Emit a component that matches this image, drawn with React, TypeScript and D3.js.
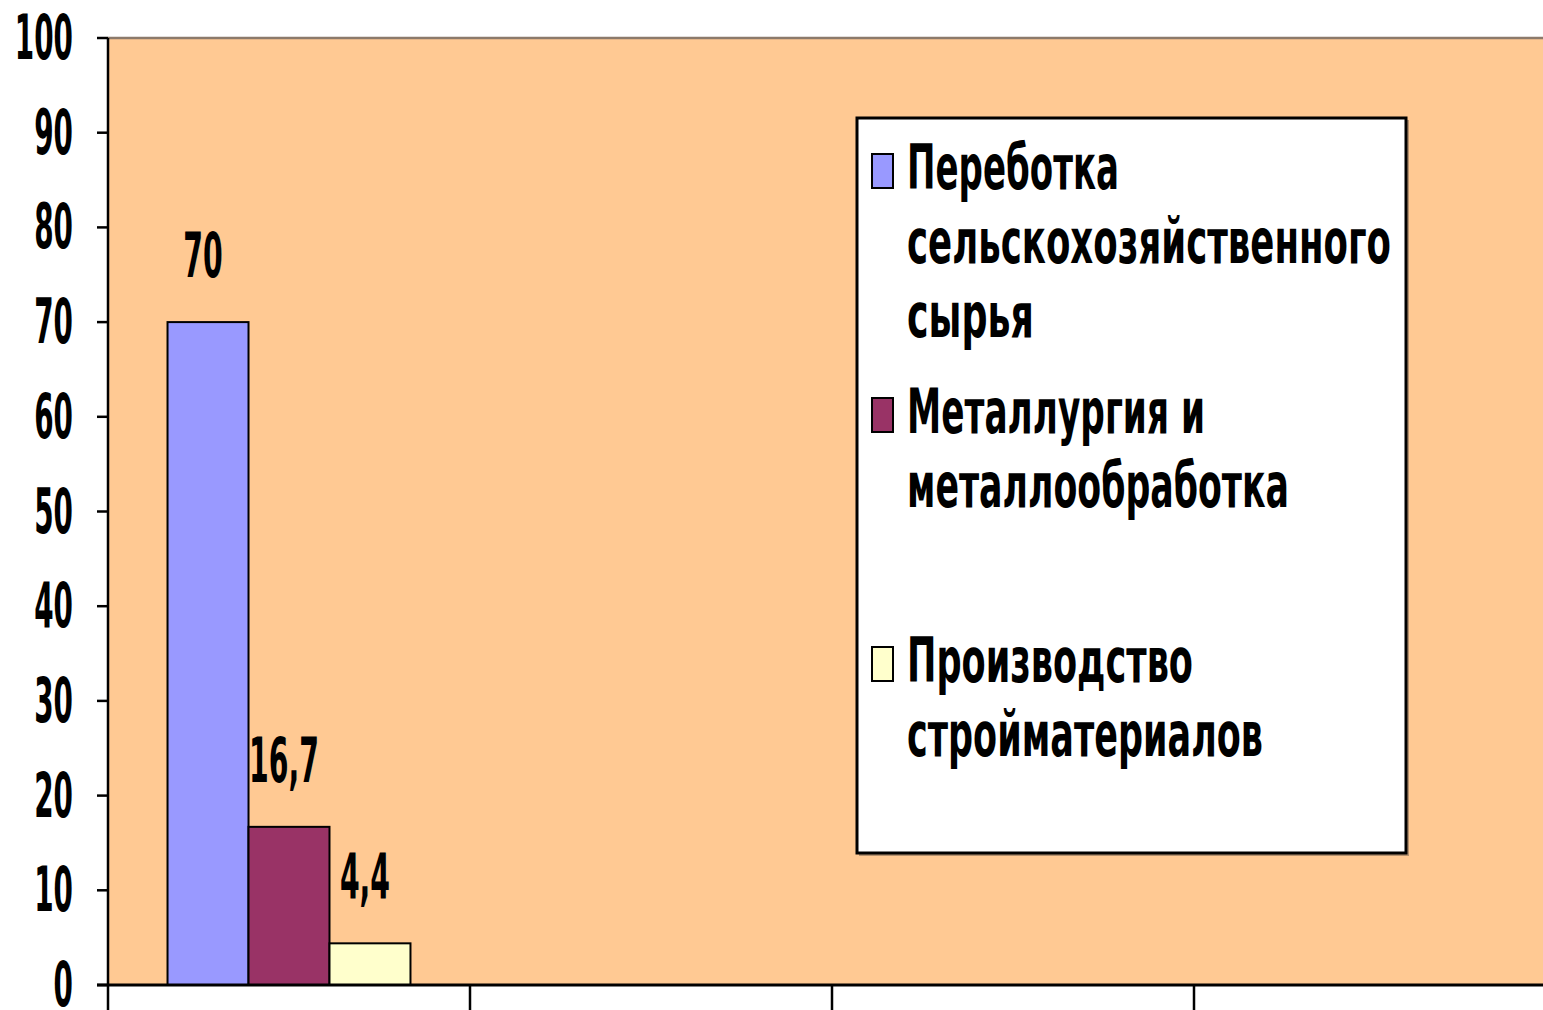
import React, { useEffect, useRef } from 'react';
import * as d3 from 'd3';

// categories along x (their labels are cut off below the picture)
const categories = ['1', '2', '3', '4'];
const seriesNames = [
  'Переботка сельскохозяйственного сырья',
  'Металлургия и металлообработка',
  'Производство стройматериалов',
];
const seriesColors = ['#9999FF', '#993366', '#FFFFCC'];
// values per series, one per category (only the first category has data)
const pererabotka = [70, null, null, null];
const metallurgy = [16.7, null, null, null];
const stroymat = [4.4, null, null, null];
const yTicks = [0, 10, 20, 30, 40, 50, 60, 70, 80, 90, 100];

// legend lines as drawn in the box
const legendLines = [
  ['Переботка', 'сельскохозяйственного', 'сырья'],
  ['Металлургия и', 'металлообработка'],
  ['Производство', 'стройматериалов'],
];
const legendWidths = [[212, 484, 127], [298, 382], [286, 356]];

const W = 1543;
const H = 1010;

export default function App() {
  const ref = useRef(null);

  useEffect(() => {
    document.body.style.margin = '0';
    const svg = d3.select(ref.current);
    svg.selectAll('*').remove();

    const m = { left: 108, top: 38, right: 1556, bottom: 985 };
    const font = '"DejaVu Sans", sans-serif';
    const values = [pererabotka, metallurgy, stroymat];

    const y = d3.scaleLinear().domain([0, 100]).range([m.bottom, m.top]);
    const x0 = d3.scaleBand().domain(categories).range([m.left, m.right]).padding(0);
    const x1 = d3.scaleBand().domain(seriesNames).range([0, x0.bandwidth()])
      .paddingInner(0).paddingOuter(0.735);

    // plot background
    svg.append('rect')
      .attr('x', m.left).attr('y', m.top)
      .attr('width', m.right - m.left).attr('height', m.bottom - m.top)
      .attr('fill', '#FFC993');
    svg.append('line')
      .attr('x1', m.left).attr('x2', m.right).attr('y1', m.top).attr('y2', m.top)
      .attr('stroke', '#8c7a6b').attr('stroke-width', 2.5);

    // bars
    values.forEach((vals, si) => {
      vals.forEach((v, ci) => {
        if (v == null) return;
        const bx = x0(categories[ci]) + x1(seriesNames[si]);
        svg.append('rect')
          .attr('x', bx).attr('y', y(v))
          .attr('width', x1.bandwidth()).attr('height', y(0) - y(v))
          .attr('fill', seriesColors[si])
          .attr('stroke', '#000').attr('stroke-width', 2);
        svg.append('text')
          .attr('transform', `translate(${bx + x1.bandwidth() / 2 - 5},${y(v) - 45}) scale(0.45,1)`)
          .attr('text-anchor', 'middle')
          .attr('font-family', font).attr('font-weight', 'bold').attr('font-size', 63)
          .text(String(v).replace('.', ','));
      });
    });

    // y axis
    svg.append('line')
      .attr('x1', m.left).attr('x2', m.left).attr('y1', m.top).attr('y2', H)
      .attr('stroke', '#000').attr('stroke-width', 2.5);
    yTicks.forEach((t) => {
      svg.append('line')
        .attr('x1', m.left - 11).attr('x2', m.left).attr('y1', y(t)).attr('y2', y(t))
        .attr('stroke', '#000').attr('stroke-width', 2.5);
      svg.append('text')
        .attr('transform', `translate(73,${y(t) + 21}) scale(0.45,1)`)
        .attr('text-anchor', 'end')
        .attr('font-family', font).attr('font-weight', 'bold').attr('font-size', 62)
        .text(t);
    });

    // x axis
    svg.append('line')
      .attr('x1', m.left - 11).attr('x2', m.right).attr('y1', m.bottom).attr('y2', m.bottom)
      .attr('stroke', '#000').attr('stroke-width', 3);
    categories.forEach((c) => {
      const tx = x0(c) + x0.bandwidth();
      svg.append('line')
        .attr('x1', tx).attr('x2', tx).attr('y1', m.bottom).attr('y2', H)
        .attr('stroke', '#000').attr('stroke-width', 2.5);
    });

    // legend
    const lg = svg.append('g');
    lg.append('rect')
      .attr('x', 859).attr('y', 120).attr('width', 550).attr('height', 736)
      .attr('fill', '#6b5a4a').attr('opacity', 0.5);
    lg.append('rect')
      .attr('x', 857).attr('y', 118).attr('width', 549).attr('height', 735)
      .attr('fill', '#fff').attr('stroke', '#000').attr('stroke-width', 3);
    const firstBaselines = [189, 433, 682];
    legendLines.forEach((lines, si) => {
      const b = firstBaselines[si];
      lg.append('rect')
        .attr('x', 872).attr('y', b - 35).attr('width', 21).attr('height', 34)
        .attr('fill', seriesColors[si]).attr('stroke', '#000').attr('stroke-width', 2);
      lines.forEach((ln, li) => {
        lg.append('text')
          .attr('x', 907).attr('y', b + li * 74)
          .attr('font-family', font).attr('font-weight', 'bold').attr('font-size', 62)
          .attr('textLength', legendWidths[si][li])
          .attr('lengthAdjust', 'spacingAndGlyphs')
          .text(ln);
      });
    });
  }, []);

  return (
    <svg ref={ref} width={W} height={H} style={{ display: 'block', background: '#fff' }} />
  );
}
